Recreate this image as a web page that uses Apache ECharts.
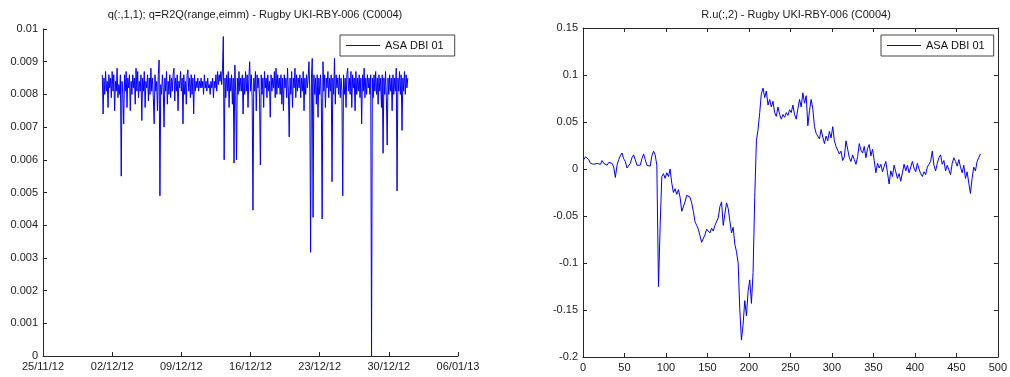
<!DOCTYPE html>
<html>
<head>
<meta charset="utf-8">
<title>ASA DBI 01</title>
<script src="https://cdn.jsdelivr.net/npm/echarts@6/dist/echarts.min.js"></script>
<style>
  html, body { margin: 0; padding: 0; background: #fff; }
  #chart { width: 1010px; height: 377px; }
</style>
</head>
<body>
<div id="chart"></div>
<script>
// left panel: q(:,1,1), one value every 2 hours from 01/12/12 00:00
var axisStart = Date.UTC(2012, 10, 25);   // 25/11/12, left end of the date axis
var leftFirstDay = 6;                      // 01/12/12 as days after axisStart
var leftStepHours = 2;
var leftValues = [
  0.0086, 0.0074, 0.0085, 0.0080, 0.0087, 0.0081, 0.0084, 0.0076, 0.0086, 0.0082, 0.0085, 0.0079,   // 01/12
  0.0087, 0.0081, 0.0086, 0.0075, 0.0084, 0.0081, 0.0088, 0.0079, 0.0083, 0.0080, 0.0086, 0.0055,   // 02/12
  0.0084, 0.0080, 0.0071, 0.0086, 0.0081, 0.0087, 0.0076, 0.0085, 0.0082, 0.0086, 0.0075, 0.0084,   // 03/12
  0.0080, 0.0086, 0.0082, 0.0085, 0.0077, 0.0088, 0.0081, 0.0087, 0.0079, 0.0084, 0.0081, 0.0086,   // 04/12
  0.0072, 0.0085, 0.0081, 0.0087, 0.0076, 0.0084, 0.0082, 0.0086, 0.0078, 0.0085, 0.0080, 0.0088,   // 05/12
  0.0081, 0.0085, 0.0079, 0.0071, 0.0086, 0.0081, 0.0084, 0.0075, 0.0086, 0.00905, 0.0049, 0.0083,  // 06/12
  0.0080, 0.0086, 0.0082, 0.0070, 0.0085, 0.0081, 0.0087, 0.0077, 0.0084, 0.0080, 0.0086, 0.0079,   // 07/12
  0.0085, 0.0081, 0.0086, 0.0088, 0.0078, 0.0085, 0.0081, 0.0086, 0.0075, 0.0084, 0.0082, 0.0087,   // 08/12
  0.0081, 0.0085, 0.0071, 0.0086, 0.0080, 0.0084, 0.0077, 0.0086, 0.00875, 0.0081, 0.0085, 0.0079,  // 09/12
  0.0086, 0.0080, 0.0085, 0.0074, 0.0086, 0.0081, 0.0084, 0.0082, 0.0085, 0.0081, 0.0084, 0.0082,   // 10/12
  0.0085, 0.0082, 0.0084, 0.0080, 0.0086, 0.0082, 0.0084, 0.0081, 0.0085, 0.0082, 0.0083, 0.0080,   // 11/12
  0.0084, 0.0082, 0.0085, 0.0079, 0.0084, 0.0082, 0.0086, 0.0081, 0.0087, 0.0083, 0.0086, 0.0084,   // 12/12
  0.0087, 0.0083, 0.0088, 0.00977, 0.0060, 0.0085, 0.0079, 0.0086, 0.0081, 0.0087, 0.0076, 0.0085,  // 13/12
  0.0081, 0.0086, 0.0077, 0.0085, 0.0059, 0.0089, 0.0081, 0.0060, 0.0085, 0.0080, 0.0087, 0.0081,   // 14/12
  0.0085, 0.0081, 0.0086, 0.0074, 0.0085, 0.0080, 0.0087, 0.0081, 0.0086, 0.0076, 0.0085, 0.0090,   // 15/12
  0.0081, 0.0086, 0.0079, 0.00446, 0.0085, 0.0081, 0.0087, 0.0075, 0.0086, 0.0082, 0.0085, 0.0079,  // 16/12
  0.00584, 0.0086, 0.0080, 0.0085, 0.0076, 0.0087, 0.0082, 0.0085, 0.0079, 0.0086, 0.0081, 0.0084,  // 17/12
  0.0073, 0.0086, 0.0081, 0.0085, 0.0082, 0.0087, 0.0079, 0.0088, 0.0080, 0.0086, 0.0082, 0.0085,   // 18/12
  0.0080, 0.0086, 0.0077, 0.0085, 0.0075, 0.0086, 0.0082, 0.0085, 0.0079, 0.0088, 0.0081, 0.0067,   // 19/12
  0.0085, 0.0080, 0.0087, 0.0076, 0.0085, 0.0082, 0.0088, 0.0079, 0.0086, 0.0081, 0.0085, 0.0082,   // 20/12
  0.0086, 0.0079, 0.0085, 0.0081, 0.0087, 0.0075, 0.0085, 0.0080, 0.0086, 0.0082, 0.0085, 0.0090,   // 21/12
  0.0081, 0.00317, 0.0085, 0.0091, 0.00424, 0.0086, 0.0080, 0.0085, 0.0077, 0.0086, 0.0073, 0.0085, // 22/12
  0.0080, 0.0086, 0.0079, 0.00419, 0.0090, 0.0081, 0.0086, 0.0076, 0.0085, 0.0082, 0.0087, 0.0079,  // 23/12
  0.0085, 0.0081, 0.0086, 0.00533, 0.0085, 0.0080, 0.0091, 0.0077, 0.0086, 0.0082, 0.0085, 0.0080,  // 24/12
  0.0086, 0.0079, 0.0085, 0.0081, 0.0049, 0.0086, 0.0080, 0.0085, 0.0076, 0.0086, 0.0088, 0.0081,   // 25/12
  0.0085, 0.0080, 0.0087, 0.0076, 0.0086, 0.0082, 0.0085, 0.0075, 0.0087, 0.0080, 0.0085, 0.0081,   // 26/12
  0.0086, 0.0079, 0.0085, 0.0071, 0.0086, 0.0081, 0.0088, 0.0079, 0.0085, 0.0080, 0.0086, 0.0082,   // 27/12
  0.0085, 0.0080, 0.0086, 0.0000, 0.0085, 0.0079, 0.0086, 0.0081, 0.0087, 0.0080, 0.0085, 0.0077,   // 28/12
  0.0086, 0.0081, 0.0085, 0.0076, 0.0086, 0.0062, 0.0085, 0.0080, 0.0087, 0.0079, 0.00645, 0.0085,  // 29/12
  0.0080, 0.0086, 0.0081, 0.0085, 0.0075, 0.0086, 0.0080, 0.0085, 0.0081, 0.0088, 0.00505, 0.0085,  // 30/12
  0.0081, 0.0087, 0.0080, 0.0086, 0.0069, 0.0085, 0.0081, 0.0087, 0.0080, 0.0086, 0.0082, 0.0085    // 31/12
];

// right panel: R.u(:,2), sample number 1, 3, 5, ... 479
var rightFirst = 1;
var rightStep = 2;
var rightValues = [
  0.010, 0.013, 0.015, 0.010, 0.006, 0.008, 0.005, 0.007, 0.006, 0.008,
  0.005, 0.009, 0.006, 0.008, 0.004, 0.007, 0.005, 0.006, 0.002, -0.009,
  0.004, 0.010, 0.014, 0.017, 0.011, 0.008, 0.001, 0.002, 0.006, 0.012,
  0.015, 0.010, 0.004, 0.002, 0.004, 0.011, 0.016, 0.010, 0.004, 0.002,
  0.003, 0.014, 0.019, 0.015, 0.004, -0.125, -0.060, -0.008, -0.005, -0.010,
  -0.004, -0.008, 0.000, -0.015, -0.025, -0.021, -0.027, -0.022, -0.030, -0.045,
  -0.046, -0.035, -0.028, -0.027, -0.030, -0.036, -0.045, -0.056, -0.060, -0.064,
  -0.066, -0.078, -0.076, -0.070, -0.064, -0.066, -0.068, -0.063, -0.066, -0.060,
  -0.058, -0.052, -0.040, -0.035, -0.060, -0.048, -0.036, -0.042, -0.055, -0.068,
  -0.062, -0.080, -0.088, -0.100, -0.150, -0.182, -0.165, -0.140, -0.156, -0.130,
  -0.118, -0.143, -0.110, -0.030, 0.030, 0.042, 0.060, 0.080, 0.086, 0.076,
  0.083, 0.068, 0.074, 0.066, 0.072, 0.060, 0.056, 0.066, 0.058, 0.053,
  0.058, 0.055, 0.060, 0.057, 0.063, 0.060, 0.068, 0.058, 0.053, 0.064,
  0.074, 0.066, 0.081, 0.070, 0.078, 0.046, 0.062, 0.074, 0.064, 0.045,
  0.038, 0.035, 0.032, 0.042, 0.034, 0.027, 0.035, 0.030, 0.040, 0.033,
  0.045, 0.030, 0.024, 0.020, 0.016, 0.019, 0.009, 0.013, 0.030, 0.021,
  0.012, 0.008, 0.015, 0.010, 0.005, 0.013, 0.027, 0.020, 0.017, 0.024,
  0.012, 0.022, 0.026, 0.014, 0.021, 0.009, -0.004, 0.006, 0.001, 0.005,
  -0.003, 0.003, 0.008, -0.004, -0.016, -0.002, -0.008, 0.004, -0.003, -0.010,
  -0.005, -0.013, -0.004, 0.005, -0.002, 0.004, -0.004, 0.002, 0.008, 0.001,
  -0.003, 0.006, 0.000, -0.005, -0.008, -0.003, -0.006, 0.002, 0.005, 0.008,
  0.019, 0.004, -0.002, 0.006, 0.012, 0.015, 0.005, 0.009, -0.002, 0.004,
  0.002, -0.006, 0.006, 0.012, 0.008, 0.003, 0.010, 0.002, -0.004, 0.004,
  -0.010, -0.003, -0.015, -0.026, -0.010, 0.002, -0.002, 0.008, 0.012, 0.016
];

var leftTitle = 'q(:,1,1); q=R2Q(range,eimm) - Rugby UKI-RBY-006 (C0004)';
var rightTitle = 'R.u(:,2) - Rugby UKI-RBY-006 (C0004)';
var seriesName = 'ASA DBI 01';

var leftData = [];
for (var i = 0; i < leftValues.length; i++) {
  leftData.push([leftFirstDay + i * leftStepHours / 24, leftValues[i]]);
}
var rightData = [];
for (var j = 0; j < rightValues.length; j++) {
  rightData.push([rightFirst + j * rightStep, rightValues[j]]);
}

function pad(n) { return n < 10 ? '0' + n : '' + n; }
function dayLabel(v) {
  var d = new Date(axisStart + Math.round(v) * 86400000);
  return pad(d.getUTCDate()) + '/' + pad(d.getUTCMonth() + 1) + '/' + pad(d.getUTCFullYear() % 100);
}

var font = '"Liberation Sans", Arial, sans-serif';
var ink = '#262626';
var blue = '#0000ff';

function axisBits(showLabel, formatter) {
  return {
    axisLine: { show: true, onZero: false, lineStyle: { color: ink, width: 1 } },
    axisTick: { show: true, inside: true, length: 4, lineStyle: { color: ink } },
    axisLabel: { show: showLabel, formatter: formatter, color: '#1a1a1a', fontSize: 11, fontFamily: font, margin: 5 },
    splitLine: { show: false }
  };
}

var myChart = echarts.init(document.getElementById('chart'));

var option = {
  animation: false,
  backgroundColor: '#fff',
  title: [
    { text: leftTitle, left: 250, top: 4, textAlign: 'center',
      textStyle: { fontSize: 11, fontWeight: 'normal', color: '#1a1a1a', fontFamily: font } },
    { text: rightTitle, left: 791, top: 4, textAlign: 'center',
      textStyle: { fontSize: 11, fontWeight: 'normal', color: '#1a1a1a', fontFamily: font } }
  ],
  legend: [
    { data: [seriesName], left: 340, top: 35, icon: 'rect', itemWidth: 34, itemHeight: 1,
      padding: [5, 11, 5, 6], borderColor: '#444', borderWidth: 1, backgroundColor: '#fff',
      textStyle: { fontSize: 11, color: '#111', fontFamily: font } },
    { data: [seriesName], left: 881, top: 35, icon: 'rect', itemWidth: 34, itemHeight: 1,
      padding: [5, 9, 5, 6], borderColor: '#444', borderWidth: 1, backgroundColor: '#fff',
      textStyle: { fontSize: 11, color: '#111', fontFamily: font } }
  ],
  grid: [
    { left: 43, top: 29, width: 415, height: 327 },
    { left: 583, top: 28, width: 416, height: 329 }
  ],
  xAxis: [
    Object.assign({ gridIndex: 0, type: 'value', min: 0, max: 42, interval: 7 },
      axisBits(true, dayLabel)),
    Object.assign({ gridIndex: 1, type: 'value', min: 0, max: 500, interval: 50 },
      axisBits(true, function (v) { return '' + v; })),
    Object.assign({ gridIndex: 1, type: 'value', position: 'top', min: 0, max: 500, interval: 50 },
      axisBits(false))
  ],
  yAxis: [
    Object.assign({ gridIndex: 0, type: 'value', min: 0, max: 0.01, interval: 0.001 },
      axisBits(true, function (v) { return '' + parseFloat(v.toFixed(3)); })),
    Object.assign({ gridIndex: 1, type: 'value', min: -0.2, max: 0.15, interval: 0.05 },
      axisBits(true, function (v) { return '' + parseFloat(v.toFixed(2)); })),
    Object.assign({ gridIndex: 1, type: 'value', position: 'right', min: -0.2, max: 0.15, interval: 0.05 },
      axisBits(false))
  ],
  series: [
    {
      name: seriesName, type: 'line', xAxisIndex: 0, yAxisIndex: 0,
      data: leftData, showSymbol: false, symbol: 'none',
      lineStyle: { width: 1, color: blue }, itemStyle: { color: blue }
    },
    {
      name: seriesName, type: 'line', xAxisIndex: 1, yAxisIndex: 1,
      data: rightData, showSymbol: false, symbol: 'none',
      lineStyle: { width: 1, color: blue }, itemStyle: { color: blue }
    }
  ]
};

myChart.setOption(option);
</script>
</body>
</html>
